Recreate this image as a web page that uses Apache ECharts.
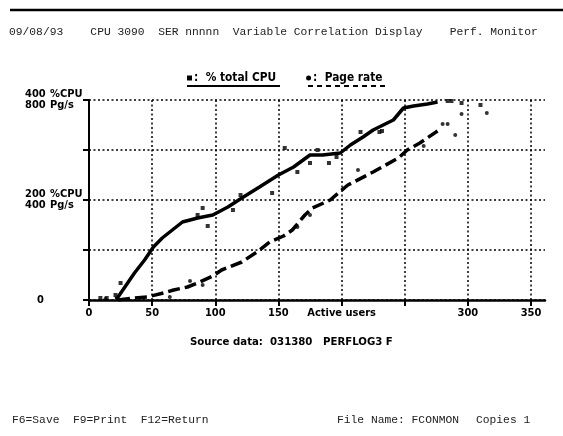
<!DOCTYPE html>
<html lang="en">
<head>
    <meta charset="UTF-8">
    <title>Variable Correlation Display</title>
    <style>
        html, body { margin: 0; padding: 0; background: #fff; }
        #chart { width: 563px; height: 436px; }
    </style>
</head>
<body>
<div id="chart"></div>
<script src="https://cdn.jsdelivr.net/npm/echarts@6/dist/echarts.min.js"></script>
<script>
    // % total CPU - main curve
    const cpuUsers = [21, 23, 36, 44, 51, 58, 66, 74, 86, 98, 110, 121, 135, 150, 162, 175, 185, 199, 207, 217, 225, 241, 249, 257, 268, 276];
    const cpuPct   = [2, 6, 54, 80, 106, 124, 140, 156, 164, 170, 186, 204, 226, 250, 266, 290, 290, 294, 310, 326, 340, 360, 384, 388, 392, 396];
    // % total CPU - stray samples
    const cpuOutUsers = [9, 14, 21, 25, 86, 90, 94, 114, 120, 145, 155, 165, 175, 181, 190, 196, 215, 230, 232, 284, 287, 295, 310];
    const cpuOutPct   = [4, 4, 10, 34, 170, 184, 148, 180, 210, 214, 304, 256, 274, 300, 274, 286, 336, 336, 338, 398, 398, 394, 390];
    // Page rate - main curve
    const pageUsers = [23, 36, 46, 59, 67, 78, 86, 98, 105, 121, 133, 143, 154, 161, 171, 177, 191, 205, 225, 245, 252, 262, 276];
    const pageRate  = [0, 8, 12, 28, 40, 52, 68, 96, 120, 152, 192, 232, 256, 280, 340, 368, 400, 460, 512, 568, 600, 628, 676];
    // Page rate - stray samples
    const pageOutUsers = [13, 64, 80, 90, 165, 175, 213, 265, 280, 284, 290, 295, 315];
    const pageOutRate  = [4, 12, 76, 60, 292, 340, 520, 616, 704, 704, 660, 744, 748];

    const xTicks = [0, 50, 100, 150, 200, 250, 300, 350];
    const yLabels = {
        400: ['400', '%CPU', '800', 'Pg/s'],
        200: ['200', '%CPU', '400', 'Pg/s']
    };

    const boldFont = "'DejaVu Sans Condensed', 'Liberation Sans Narrow', 'DejaVu Sans', sans-serif";
    const monoFont = "'Liberation Mono', 'DejaVu Sans Mono', monospace";

    const pairs = (xs, ys) => xs.map((x, i) => [x, ys[i]]);
    const dotted = { color: '#000', width: 1.5, type: [2, 2.5] };

    const chart = echarts.init(document.getElementById('chart'));
    chart.setOption({
        animation: false,
        backgroundColor: '#fff',
        title: [
            {
                text: '09/08/93    CPU 3090  SER nnnnn  Variable Correlation Display    Perf. Monitor',
                left: 9, top: 27, padding: 0,
                textStyle: { fontFamily: monoFont, fontSize: 11.3, fontWeight: 'normal', color: '#222' }
            },
            {
                text: 'Source data:  031380   PERFLOG3 F',
                left: 190, top: 337, padding: 0,
                textStyle: { fontFamily: boldFont, fontSize: 11.3, fontWeight: 'bold', color: '#000' }
            },
            {
                text: 'F6=Save  F9=Print  F12=Return',
                left: 12, top: 415, padding: 0,
                textStyle: { fontFamily: monoFont, fontSize: 11.3, fontWeight: 'normal', color: '#222' }
            },
            {
                text: 'File Name: FCONMON',
                left: 337, top: 415, padding: 0,
                textStyle: { fontFamily: monoFont, fontSize: 11.3, fontWeight: 'normal', color: '#222' }
            },
            {
                text: 'Copies 1',
                left: 476, top: 415, padding: 0,
                textStyle: { fontFamily: monoFont, fontSize: 11.3, fontWeight: 'normal', color: '#222' }
            }
        ],
        legend: {
            left: 187, top: 72, padding: 0,
            itemWidth: 5, itemHeight: 5, itemGap: 30,
            data: [
                { name: '% total CPU', icon: 'rect' },
                { name: 'Page rate', icon: 'circle' }
            ],
            formatter: ':  {name}',
            textStyle: { fontFamily: boldFont, fontSize: 11.8, fontWeight: 'bold', color: '#000', padding: [0, 0, 0, -3] }
        },
        graphic: [
            { type: 'line', shape: { x1: 10, y1: 10, x2: 563, y2: 10 }, style: { stroke: '#000', lineWidth: 2.5 } },
            { type: 'line', shape: { x1: 187, y1: 86, x2: 280, y2: 86 }, style: { stroke: '#000', lineWidth: 2 } },
            { type: 'line', shape: { x1: 308, y1: 86, x2: 386, y2: 86 }, style: { stroke: '#000', lineWidth: 2, lineDash: [5, 4] } }
        ],
        grid: [
            { left: 89, right: 32, top: 100, bottom: 136 },
            { left: 89, right: 18, top: 100, bottom: 136 }
        ],
        xAxis: [
            {
                gridIndex: 0, type: 'value', min: 0, max: 350, interval: 50,
                axisLine: { show: false },
                axisTick: { show: true, length: 6, lineStyle: { color: '#000', width: 2 } },
                axisLabel: {
                    margin: 8,
                    fontFamily: boldFont, fontSize: 11, fontWeight: 'bold', color: '#000',
                    formatter: v => v === 200 ? 'Active users' : (v === 250 || xTicks.indexOf(v) < 0 ? '' : String(v))
                },
                splitLine: { show: true, lineStyle: dotted }
            },
            {
                gridIndex: 1, type: 'value', min: 0, max: 361,
                axisLine: { show: true, lineStyle: { color: '#000', width: 2.5 } },
                axisTick: { show: false },
                axisLabel: { show: false },
                splitLine: { show: false }
            }
        ],
        yAxis: [
            {
                gridIndex: 0, type: 'value', min: 0, max: 400, interval: 100,
                axisLine: { show: true, lineStyle: { color: '#000', width: 2 } },
                axisTick: { show: true, length: 6, lineStyle: { color: '#000', width: 2 } },
                axisLabel: {
                    align: 'left', margin: 64, lineHeight: 11,
                    formatter: v => {
                        if (yLabels[v]) {
                            const t = yLabels[v];
                            return '{n|' + t[0] + '}{u|' + t[1] + '}\n{n|' + t[2] + '}{u|' + t[3] + '}';
                        }
                        return v === 0 ? '{z|0}' : '';
                    },
                    rich: {
                        n: { fontFamily: boldFont, fontSize: 11, fontWeight: 'bold', color: '#000', width: 25, lineHeight: 11 },
                        u: { fontFamily: boldFont, fontSize: 11, fontWeight: 'bold', color: '#000', lineHeight: 11 },
                        z: { fontFamily: boldFont, fontSize: 11, fontWeight: 'bold', color: '#000', padding: [0, 0, 0, 12] }
                    }
                },
                splitLine: { show: false }
            },
            { gridIndex: 0, type: 'value', min: 0, max: 800, show: false },
            {
                gridIndex: 1, type: 'value', min: 0, max: 400, interval: 100,
                axisLine: { show: false },
                axisTick: { show: false },
                axisLabel: { show: false },
                splitLine: { show: true, lineStyle: dotted }
            }
        ],
        series: [
            {
                name: '% total CPU', type: 'line', xAxisIndex: 0, yAxisIndex: 0,
                data: pairs(cpuUsers, cpuPct),
                symbol: 'none', itemStyle: { color: '#000' },
                lineStyle: { color: '#000', width: 3.5 }
            },
            {
                name: '% total CPU', type: 'scatter', xAxisIndex: 0, yAxisIndex: 0,
                data: pairs(cpuOutUsers, cpuOutPct),
                symbol: 'rect', symbolSize: 4, itemStyle: { color: '#000' }
            },
            {
                name: 'Page rate', type: 'line', xAxisIndex: 0, yAxisIndex: 1,
                data: pairs(pageUsers, pageRate),
                symbol: 'none', itemStyle: { color: '#000' },
                lineStyle: { color: '#000', width: 3.5, type: [12, 5] }
            },
            {
                name: 'Page rate', type: 'scatter', xAxisIndex: 0, yAxisIndex: 1,
                data: pairs(pageOutUsers, pageOutRate),
                symbol: 'circle', symbolSize: 4, itemStyle: { color: '#000' }
            }
        ]
    });
</script>
</body>
</html>
